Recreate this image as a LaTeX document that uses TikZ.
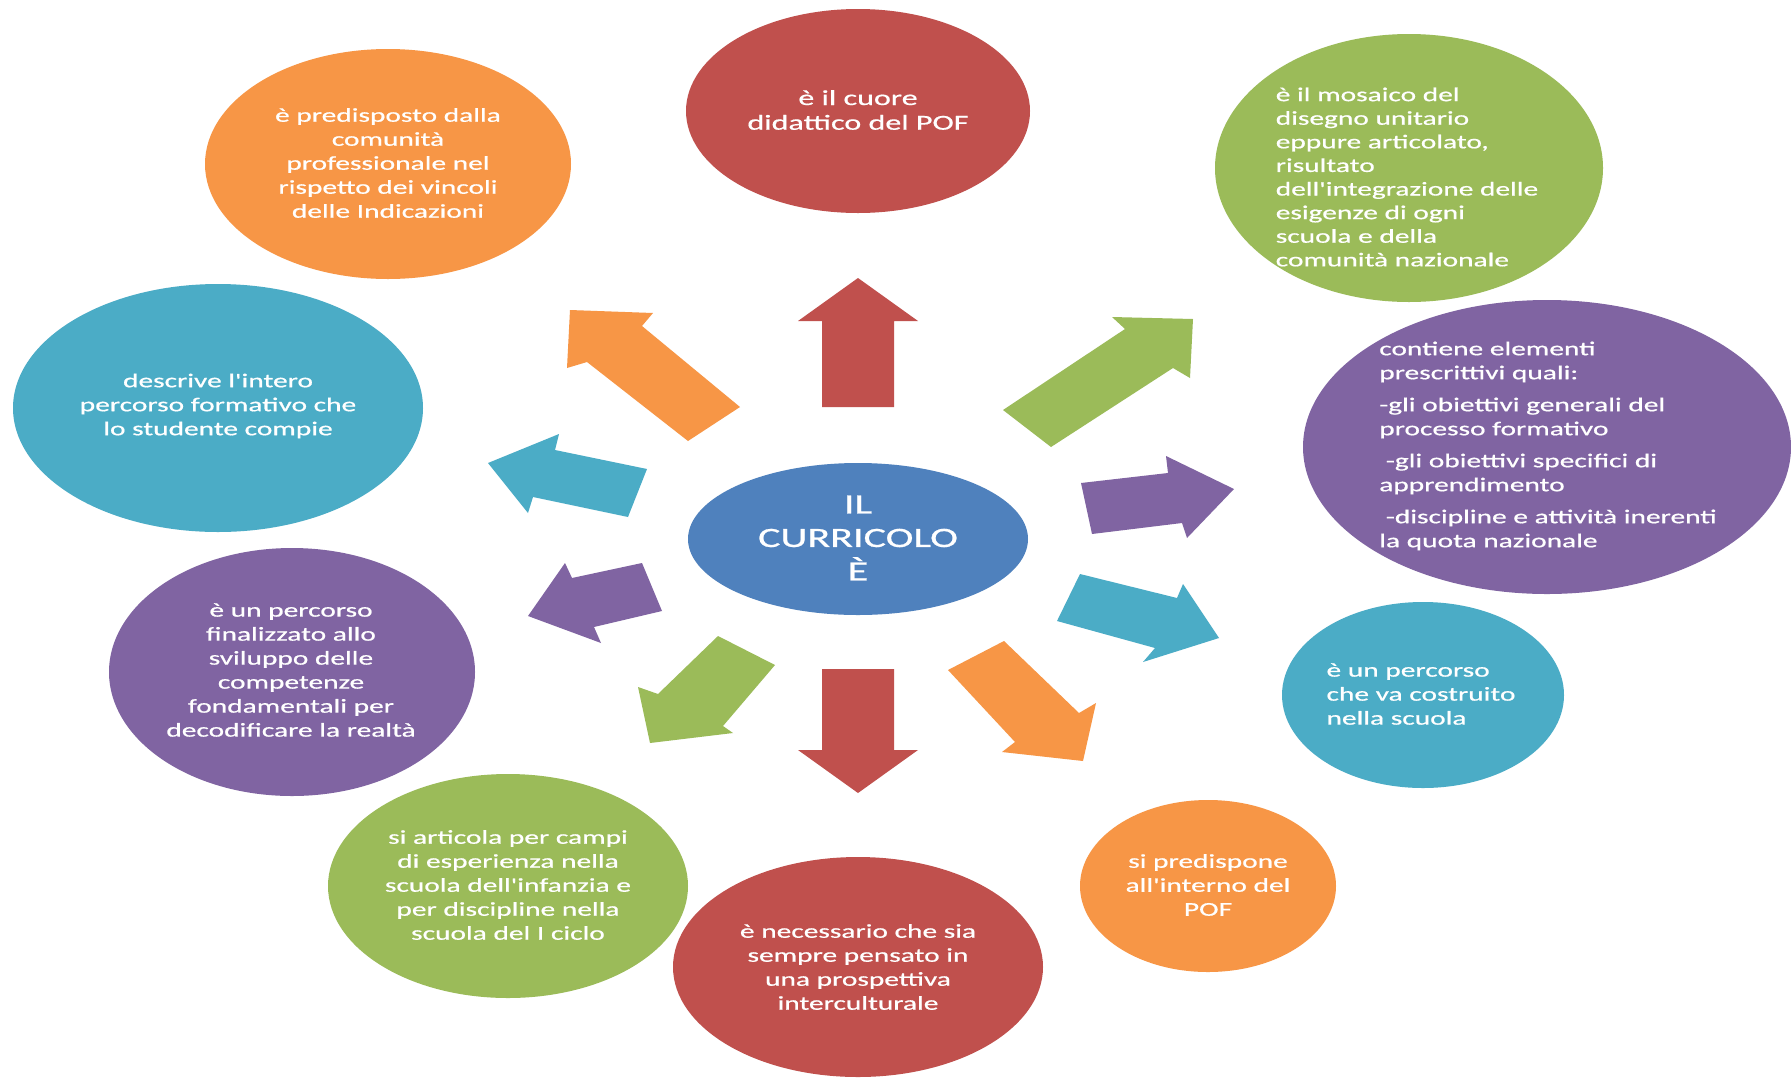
\documentclass[tikz,border=0pt]{standalone}
\usepackage{fontspec}
\usetikzlibrary{shapes.geometric}
\newfontfamily\cfont[FakeStretch=1.5,FakeBold=0.7]{Carlito}
\definecolor{cRed}{HTML}{C0504D}
\definecolor{cOrange}{HTML}{F79646}
\definecolor{cGreen}{HTML}{9BBB59}
\definecolor{cAqua}{HTML}{4BACC6}
\definecolor{cPurple}{HTML}{8064A2}
\definecolor{cBlue}{HTML}{4F81BD}
\tikzset{
  bub/.style={ellipse, draw=none, inner sep=0pt},
  txt/.style={text=white, inner sep=0pt, align=center, font=\cfont\fontsize{19.6}{24}\selectfont},
  txtl/.style={txt, align=left},
  blockarrow/.style={draw=none}
}
\begin{document}
\begin{tikzpicture}[x=1pt,y=-1pt]
\useasboundingbox[fill=white] (0,0) rectangle (1791,1077);

% bubbles
\node[bub, fill=cRed,    minimum width=344pt, minimum height=204pt] (redT)  at (858,111) {};
\node[bub, fill=cOrange, minimum width=366pt, minimum height=230pt] (orTL)  at (388,164) {};
\node[bub, fill=cGreen,  minimum width=388pt, minimum height=268pt] (grTR)  at (1409,168) {};
\node[bub, fill=cAqua,   minimum width=410pt, minimum height=248pt] (aqL)   at (218,408) {};
\node[bub, fill=cPurple, minimum width=488pt, minimum height=294pt] (puR)   at (1547,447) {};
\node[bub, fill=cBlue,   minimum width=340pt, minimum height=152pt] (ctr)   at (858,539) {};
\node[bub, fill=cPurple, minimum width=366pt, minimum height=248pt] (puL)   at (292,672) {};
\node[bub, fill=cAqua,   minimum width=282pt, minimum height=186pt] (aqR)   at (1423,695) {};
\node[bub, fill=cGreen,  minimum width=360pt, minimum height=224pt] (grBL)  at (508,886) {};
\node[bub, fill=cRed,    minimum width=370pt, minimum height=220pt] (redB)  at (858,967) {};
\node[bub, fill=cOrange, minimum width=256pt, minimum height=172pt] (orBR)  at (1208,886) {};

% texts
\node[txt, font=\cfont\fontsize{21.4}{24.7}\selectfont] (tRedT) at (858,110) {è il cuore\\didattico del POF};
\node[txt] (tOrTL) at (388,163) {è predisposto dalla\\comunità\\professionale nel\\rispetto dei vincoli\\delle Indicazioni};
\node[txtl, font=\cfont\fontsize{19.6}{23.6}\selectfont] (tGrTR) at (1407,177) {è il mosaico del\\disegno unitario\\eppure articolato,\\risultato\\dell'integrazione delle\\esigenze di ogni\\scuola e della\\comunità nazionale};
\node[txt] (tAqL) at (218,406) {descrive l'intero\\percorso formativo che\\lo studente compie};
\node[txtl] (tPuR) at (1548,446) {contiene elementi\\prescrittivi quali:\\[8pt]-gli obiettivi generali del\\processo formativo\\[8pt]\hspace*{6.6pt}-gli obiettivi specifici di\\apprendimento\\[8pt]\hspace*{6.6pt}-discipline e attività inerenti\\la quota nazionale};
\node[txt, font=\cfont\fontsize{28}{33.5}\selectfont] (tCtr) at (858,538) {IL\\CURRICOLO\\È};
\node[txt] (tPuL) at (291,670) {è un percorso\\finalizzato allo\\sviluppo delle\\competenze\\fondamentali per\\decodificare la realtà};
\node[txtl] (tAqR) at (1421,694) {è un percorso\\che va costruito\\nella scuola};
\node[txt] (tGrBL) at (508,885) {si articola per campi\\di esperienza nella\\scuola dell'infanzia e\\per discipline nella\\scuola del I ciclo};
\node[txt] (tRedB) at (858,967) {è necessario che sia\\sempre pensato in\\una prospettiva\\interculturale};
\node[txt] (tOrBR) at (1208,885) {si predispone\\all'interno del\\POF};

% block arrows
\fill[blockarrow, cRed] (822,407) -- (822,321) -- (798,321) -- (858,278) -- (918,321) -- (894,321) -- (894,407) -- cycle;
\fill[blockarrow, cRed] (822,669) -- (894,669) -- (894,750) -- (918,750) -- (858,793) -- (798,750) -- (822,750) -- cycle;
\fill[blockarrow, cOrange] (570,310) -- (653,313) -- (642,326) -- (740,407) -- (688,441) -- (587,362) -- (567,368) -- cycle;
\fill[blockarrow, cAqua] (488,463) -- (559,434) -- (555,450) -- (647,469) -- (628,517) -- (533,497) -- (528,513) -- cycle;
\fill[blockarrow, cPurple] (528,616) -- (565,563) -- (572,578) -- (642,563) -- (662,611) -- (594,627) -- (601,643) -- cycle;
\fill[blockarrow, cGreen] (718,636) -- (658,694) -- (638,687) -- (650,743) -- (733,733) -- (723,726) -- (775,665) -- cycle;
\fill[blockarrow, cGreen] (1003,410) -- (1125,329) -- (1112,317) -- (1193,319) -- (1190,378) -- (1173,368) -- (1051,447) -- cycle;
\fill[blockarrow, cPurple] (1081,483) -- (1168,473) -- (1166,456) -- (1234,489) -- (1187,538) -- (1182,523) -- (1092,534) -- cycle;
\fill[blockarrow, cAqua] (1080,574) -- (1177,598) -- (1183,584) -- (1219,638) -- (1143,662) -- (1155,648) -- (1057,621) -- cycle;
\fill[blockarrow, cOrange] (1004,641) -- (1079,713) -- (1096,703) -- (1083,761) -- (1002,752) -- (1015,742) -- (948,670) -- cycle;
\end{tikzpicture}
\end{document}
